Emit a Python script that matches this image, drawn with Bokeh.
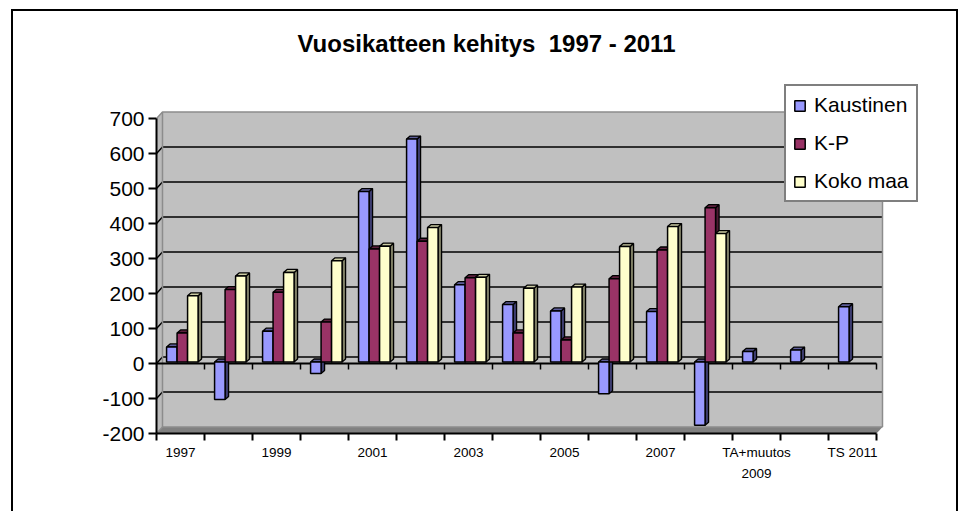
import math
from bokeh.plotting import figure
from bokeh.models import FixedTicker, LinearAxis, Legend, LegendItem, Label
from bokeh.embed import file_html
from bokeh.resources import INLINE

# ---------------- data ----------------
categories = ["1997", "1998", "1999", "2000", "2001", "2002", "2003", "2004",
              "2005", "2006", "2007", "2008", "TA+muutos 2009", "2010", "TS 2011"]
kaustinen = [43, -107, 88, -33, 487, 637, 221, 164, 146, -91, 144, -181, 30, 34, 158]
kp = [83, 207, 199, 114, 323, 345, 241, 83, 63, 238, 320, 441,
      float("nan"), float("nan"), float("nan")]
koko_maa = [189, 246, 256, 289, 331, 384, 242, 211, 214, 330, 387, 367,
            float("nan"), float("nan"), float("nan")]
series_names = ["Kaustinen", "K-P", "Koko maa"]
y_ticks = [-200, -100, 0, 100, 200, 300, 400, 500, 600, 700]
x_tick_labels = ["1997", "1999", "2001", "2003", "2005", "2007", "TA+muutos", "TS 2011"]
x_second_row = {12: "2009"}
title_text = "Vuosikatteen kehitys\u00a0 1997 - 2011"

# ---------------- styling / geometry (pixels) ----------------
FONT = "Liberation Sans"
W, H = 960, 511
AX_LEFT, AX_BOTTOM = 156, 433          # front axes position on canvas
FRAME_TOP, FRAME_RIGHT = 6, 960
PPX = 48.0                              # px per category
PPY = 0.35                              # px per value unit
WALL_PX_X, WALL_PX_Y = 6.0, 6.5
n = len(categories)
ymin, ymax = y_ticks[0], y_ticks[-1]

def cx(px):  # canvas x -> data x
    return (px - AX_LEFT) / PPX

def cy(py):  # canvas y -> data y
    return ymin + (AX_BOTTOM - py) / PPY

wx = WALL_PX_X / PPX
wy = WALL_PX_Y / PPY

p = figure(width=W, height=H, output_backend="svg", toolbar_location=None,
           x_range=(0, cx(FRAME_RIGHT)), y_range=(ymin, cy(FRAME_TOP)),
           min_border_left=AX_LEFT, min_border_right=W - FRAME_RIGHT,
           min_border_top=FRAME_TOP, min_border_bottom=H - AX_BOTTOM)
p.title.text = ""
p.title.visible = False
p.outline_line_color = None
p.background_fill_color = None
p.border_fill_color = None
p.xgrid.visible = False
p.ygrid.visible = False
# outer black chart frame (bottom edge lies below the window)
p.styles = {
    "background-color": "white",
    "background-image": "linear-gradient(#000,#000), linear-gradient(#000,#000), "
                        "linear-gradient(#000,#000)",
    "background-size": "2px 700px, 947px 2px, 2px 700px",
    "background-position": "11px 9px, 11px 9px, 956px 9px",
    "background-repeat": "no-repeat",
}

# back wall, side wall, floor
p.quad(left=wx, right=n + wx, bottom=ymin + wy, top=ymax + wy,
       fill_color="#C0C0C0", line_color=None)
p.patch([0, wx, wx, 0], [ymin, ymin + wy, ymax + wy, ymax],
        fill_color="#BABABA", line_color=None)
p.patch([0, n, n + wx, wx], [ymin, ymin, ymin + wy, ymin + wy],
        fill_color="#808080", line_color=None)

# gridlines on walls
gx, gy = [], []
for v in y_ticks[1:-1]:
    gx.append([0, wx, n + wx])
    gy.append([v, v + wy, v + wy])
p.multi_line(gx, gy, line_color="black", line_width=1.5)
p.multi_line([[0, wx, n + wx, n + wx], [0, wx, n + wx], [wx, wx]],
             [[ymax, ymax + wy, ymax + wy, ymin + wy], [ymin, ymin + wy, ymin + wy],
              [ymin + wy, ymax + wy]],
             line_color="#8C8C8C", line_width=1.5)

# zero line with ticks
tick_len = 6 / PPY
p.segment(x0=[0], y0=[0], x1=[n], y1=[0], line_color="black", line_width=2)
p.segment(x0=list(range(n + 1)), y0=[0] * (n + 1), x1=list(range(n + 1)),
          y1=[-tick_len] * (n + 1), line_color="black", line_width=1.5)

# 3D bars
bw = 10.5 / PPX
gap0 = 0.21
zs = 1.5 / PPY
ddx = 3.5 / PPX
ddy = 3.0 / PPY
styles = [("#9999FF", "#3D3D70", "#5C5C99"),
          ("#993366", "#4D1A33", "#5C1F3D"),
          ("#FFFFCC", "#808066", "#CCCCA3")]
front_renderers = []
for s, vals in enumerate([kaustinen, kp, koko_maa]):
    front, side, top = styles[s]
    sx, sy, tx, ty = [], [], [], []
    L, R, B, T = [], [], [], []
    for i, v in enumerate(vals):
        if v is None or math.isnan(v):
            continue
        x0 = i + gap0 + s * bw
        x1 = x0 + bw
        lo = min(0, v) + zs
        hi = max(0, v) + zs
        sx.append([x1, x1 + ddx, x1 + ddx, x1])
        sy.append([lo, lo + ddy, hi + ddy, hi])
        tx.append([x0, x1, x1 + ddx, x0 + ddx])
        ty.append([hi, hi, hi + ddy, hi + ddy])
        L.append(x0); R.append(x1); B.append(lo); T.append(hi)
    p.patches(sx, sy, fill_color=side, line_color="black", line_width=1.3)
    p.patches(tx, ty, fill_color=top, line_color="black", line_width=1.3)
    r = p.quad(left=L, right=R, bottom=B, top=T, fill_color=front,
               line_color="black", line_width=1.5)
    front_renderers.append(r)

# x axis (category axis at the floor front edge)
major = [i + 0.5 for i in range(0, n, 2)]
xa = p.xaxis[0]
xa.ticker = FixedTicker(ticks=major, minor_ticks=list(range(n + 1)))
xa.major_label_overrides = {t: lab for t, lab in zip(major, x_tick_labels)}
xa.bounds = (0, n)
xa.axis_line_color = "black"
xa.axis_line_width = 2
xa.major_tick_in = 0
xa.major_tick_out = 0
xa.minor_tick_in = 0
xa.minor_tick_out = 7
xa.minor_tick_line_color = "black"
xa.minor_tick_line_width = 2
xa.major_label_standoff = 4
xa.major_label_text_font = FONT
xa.major_label_text_font_size = "13.5px"
xa.major_label_text_color = "black"

xa2 = LinearAxis(ticker=FixedTicker(ticks=[i + 0.5 for i in x_second_row]),
                 major_label_overrides={i + 0.5: t for i, t in x_second_row.items()},
                 axis_line_color=None, major_tick_line_color=None,
                 minor_tick_line_color=None, major_label_standoff=0,
                 major_label_text_font=FONT, major_label_text_font_size="13.5px",
                 major_label_text_color="black")
p.add_layout(xa2, "below")

# y axis
ya = p.yaxis[0]
ya.ticker = FixedTicker(ticks=y_ticks)
ya.major_label_overrides = {v: str(v) for v in y_ticks}
ya.bounds = (ymin, ymax)
ya.axis_line_color = "black"
ya.axis_line_width = 2
ya.major_tick_in = 0
ya.major_tick_out = 8
ya.major_tick_line_color = "black"
ya.major_tick_line_width = 2
ya.major_label_standoff = 4
ya.major_label_text_font = FONT
ya.major_label_text_font_size = "21px"
ya.major_label_text_color = "black"

# legend (bottom-left corner offset from frame bottom-left, px)
legend = Legend(items=[LegendItem(label=nm, renderers=[r])
                       for nm, r in zip(series_names, front_renderers)],
                location=(784 - AX_LEFT, AX_BOTTOM - 202))
legend.label_text_font = FONT
legend.label_text_font_size = "21px"
legend.label_text_color = "black"
legend.glyph_width = 13
legend.glyph_height = 13
legend.label_standoff = 8
legend.label_height = 24
legend.padding = 7
legend.spacing = 14
legend.margin = 0
legend.border_line_color = "black"
legend.border_line_width = 2
legend.background_fill_color = "white"
legend.background_fill_alpha = 1
p.add_layout(legend)

# title
p.add_layout(Label(x=cx(486), y=cy(43), text=title_text, text_font=FONT,
                   text_font_size="24px", text_font_style="bold",
                   text_align="center", text_baseline="alphabetic",
                   text_color="black"))

open("out.html", "w").write(file_html(p, INLINE))
